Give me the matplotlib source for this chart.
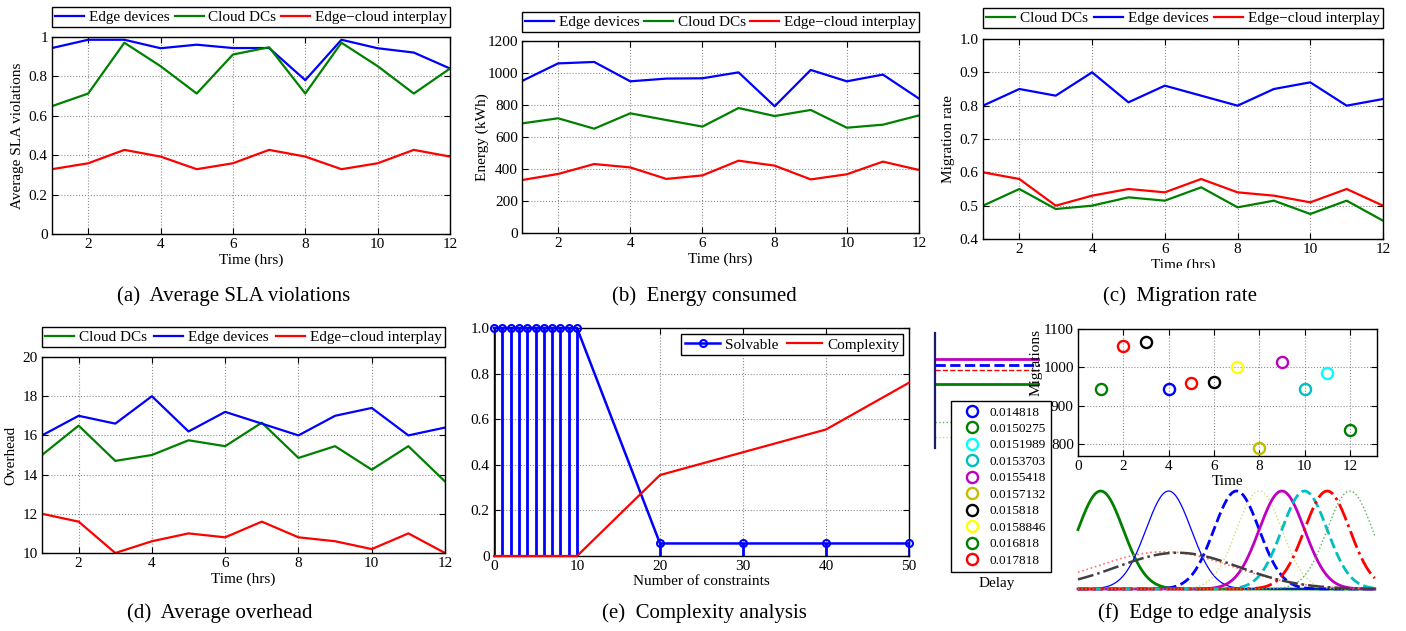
import numpy as np
import matplotlib
matplotlib.use("Agg")
import matplotlib.pyplot as plt
from matplotlib.lines import Line2D
from matplotlib.patches import Rectangle

plt.rcParams["font.family"] = ["Liberation Serif", "DejaVu Serif"]

W, H = 1406, 631

BLUE = (0, 0, 1)
GREEN = (0, 0.5, 0)
RED = (1, 0, 0)

# time axis shared by (a)-(d)
hours = [1, 2, 3, 4, 5, 6, 7, 8, 9, 10, 11, 12]

sla_edge = [0.944, 0.986, 0.986, 0.943, 0.961, 0.944, 0.944, 0.781, 0.986, 0.943, 0.921, 0.840]
sla_cloud = [0.649, 0.713, 0.971, 0.852, 0.713, 0.911, 0.948, 0.713, 0.971, 0.852, 0.713, 0.840]
sla_hybrid = [0.329, 0.359, 0.427, 0.393, 0.329, 0.359, 0.427, 0.393, 0.329, 0.359, 0.427, 0.393]

energy_edge = [950, 1060, 1069, 948, 965, 967, 1004, 792, 1019, 948, 990, 840]
energy_cloud = [685, 717, 652, 748, 706, 665, 781, 731, 769, 658, 677, 735]
energy_hybrid = [331, 369, 431, 410, 338, 360, 452, 421, 335, 367, 446, 394]

mig_cloud = [0.50, 0.55, 0.49, 0.50, 0.525, 0.515, 0.555, 0.495, 0.515, 0.475, 0.515, 0.455]
mig_edge = [0.80, 0.85, 0.83, 0.90, 0.81, 0.86, 0.83, 0.80, 0.85, 0.87, 0.80, 0.82]
mig_hybrid = [0.60, 0.58, 0.50, 0.53, 0.55, 0.54, 0.58, 0.54, 0.53, 0.51, 0.55, 0.50]

ovh_cloud = [15.0, 16.5, 14.7, 15.0, 15.75, 15.45, 16.65, 14.85, 15.45, 14.25, 15.45, 13.65]
ovh_edge = [16.0, 17.0, 16.6, 18.0, 16.2, 17.2, 16.6, 16.0, 17.0, 17.4, 16.0, 16.4]
ovh_hybrid = [12.0, 11.6, 10.0, 10.6, 11.0, 10.8, 11.6, 10.8, 10.6, 10.2, 11.0, 10.0]

# (e) complexity
constraints = [0, 1, 2, 3, 4, 5, 6, 7, 8, 9, 10, 20, 30, 40, 50]
solvable = [1, 1, 1, 1, 1, 1, 1, 1, 1, 1, 1, 0.055, 0.055, 0.055, 0.055]
complexity = [0, 0, 0, 0, 0, 0, 0, 0, 0, 0, 0, 0.355, 0.455, 0.555, 0.76]

# (f) edge to edge
mig_times = [1, 2, 3, 4, 5, 6, 7, 8, 9, 10, 11, 12]
migrations = [943, 1055, 1065, 943, 960, 962, 1000, 790, 1015, 943, 985, 838]
point_colors = [GREEN, RED, "k", BLUE, RED, "k", (1, 1, 0), (0.75, 0.75, 0),
                (0.75, 0, 0.75), (0, 0.75, 0.75), (0, 1, 1), GREEN]
delay_labels = ["0.014818", "0.0150275", "0.0151989", "0.0153703", "0.0155418",
                "0.0157132", "0.015818", "0.0158846", "0.016818", "0.017818"]
delay_colors = [BLUE, GREEN, (0, 1, 1), (0, 0.75, 0.75), (0.75, 0, 0.75),
                (0.75, 0.75, 0), "k", (1, 1, 0), GREEN, RED]

curve_centers = [1, 4, 7, 8, 9, 10, 11, 12, 3.8, 4.4]
curve_sigmas = [1, 1, 1, 1, 1, 1, 1, 1, 3.0, 2.7]
curve_peaks = [1, 1, 1, 1, 1, 1, 1, 1, 0.38, 0.37]
curve_colors = [GREEN, BLUE, BLUE, (0.85, 0.85, 0.45), (0.75, 0, 0.75), (0, 0.75, 0.75),
                RED, (0.35, 0.7, 0.35), (1, 0.45, 0.45), (0.25, 0.25, 0.25)]
curve_styles = ["-", "-", "--", ":", "-", "--", "-.", ":", ":", "-."]
curve_widths = [2.0, 0.9, 2.0, 1.0, 2.0, 2.0, 2.0, 1.0, 1.2, 1.8]

mini_levels = [0.774, 0.722, 0.678, 0.557, 0.226, 0.096]
mini_colors = [(0.75, 0, 0.75), BLUE, RED, GREEN, (0.35, 0.7, 0.35), (0.85, 0.85, 0.45)]
mini_styles = ["-", "--", "--", "-", ":", ":"]
mini_widths = [2.0, 2.0, 1.0, 2.0, 1.0, 1.0]


def box(l, t, r, b):
    return [l / W, 1 - b / H, (r - l) / W, (b - t) / H]


def style(ax):
    ax.grid(True, ls=":", color="0.55", lw=0.8)
    ax.tick_params(direction="in", length=4, top=True, right=True, labelsize=11, width=0.8, pad=3)
    for s in ax.spines.values():
        s.set_linewidth(1.0)


def place_labels(ax, rect, ylab_x, xlab_dy=20):
    # ylab_x: right edge of the rotated y label, xlab_dy: top of x label below axes
    l, t, r, b = rect
    ax.yaxis.set_label_coords((ylab_x - l) / (r - l), 0.5)
    ax.xaxis.set_label_coords(0.5, -xlab_dy / (b - t))


def top_legend(ax, rect, leg_bottom):
    l, t, r, b = rect
    ax.legend(loc="lower left", bbox_to_anchor=(0, 1 + (t - leg_bottom) / (b - t), 1, 0.1),
              mode="expand", ncol=3, fontsize=11, fancybox=False, edgecolor="k",
              framealpha=1, borderaxespad=0, handlelength=1.9, handletextpad=0.3,
              columnspacing=0.6, borderpad=0.2)


def time_panel(fig, rect, series, ylim, yticks, ylabel, ylab_x, leg_bottom, yfmt=None):
    ax = fig.add_axes(box(*rect))
    for vals, col, lab in series:
        ax.plot(hours, vals, color=col, lw=1.6, label=lab)
    ax.set_xlim(1, 12)
    ax.set_xticks([2, 4, 6, 8, 10, 12])
    ax.set_ylim(*ylim)
    ax.set_yticks(yticks)
    if yfmt:
        ax.set_yticklabels([yfmt(v) for v in yticks])
    ax.set_xlabel("Time (hrs)", fontsize=11)
    ax.set_ylabel(ylabel, fontsize=11)
    style(ax)
    place_labels(ax, rect, ylab_x)
    top_legend(ax, rect, leg_bottom)
    return ax


fig = plt.figure(figsize=(W / 100, H / 100), dpi=100)

EDGE = "Edge devices"
CLOUD = "Cloud DCs"
HYB = "Edge\u2212cloud interplay"

def frac(v):
    return "0" if v == 0 else ("1" if v == 1 else f"{v:.1f}")

time_panel(fig, (52, 37, 450, 234),
           [(sla_edge, BLUE, EDGE), (sla_cloud, GREEN, CLOUD), (sla_hybrid, RED, HYB)],
           (0, 1), [0, 0.2, 0.4, 0.6, 0.8, 1.0], "Average SLA violations", 24, 27, frac)

time_panel(fig, (522, 41, 919, 233),
           [(energy_edge, BLUE, EDGE), (energy_cloud, GREEN, CLOUD), (energy_hybrid, RED, HYB)],
           (0, 1200), [0, 200, 400, 600, 800, 1000, 1200], "Energy (kWh)", 489, 32)

time_panel(fig, (983, 39, 1383, 239),
           [(mig_cloud, GREEN, CLOUD), (mig_edge, BLUE, EDGE), (mig_hybrid, RED, HYB)],
           (0.4, 1.0), [0.4, 0.5, 0.6, 0.7, 0.8, 0.9, 1.0], "Migration rate", 955, 28,
           lambda v: f"{v:.1f}")

time_panel(fig, (42, 357, 445, 553),
           [(ovh_cloud, GREEN, CLOUD), (ovh_edge, BLUE, EDGE), (ovh_hybrid, RED, HYB)],
           (10, 20), [10, 12, 14, 16, 18, 20], "Overhead", 17, 347)

# (c) x label is cut off in the original
fig.patches.append(Rectangle((1050 / W, 1 - 287 / H), 300 / W, 19 / H, transform=fig.transFigure,
                             facecolor="white", edgecolor="none", zorder=10))

# (e) complexity analysis
rect_e = (494, 328, 909, 556)
ax = fig.add_axes(box(*rect_e))
ax.vlines(constraints, 0, solvable, color=BLUE, lw=2.0)
ax.plot(constraints, solvable, "-o", color=BLUE, lw=1.8, ms=5, mfc="none", mew=1.5,
        label="Solvable", clip_on=False, zorder=4)
ax.plot(constraints, complexity, color=RED, lw=1.6, label="Complexity", clip_on=False, zorder=5)
ax.set_xlim(0, 50)
ax.set_ylim(0, 1)
ax.set_xticks([0, 10, 20, 30, 40, 50])
ax.set_yticks([0, 0.2, 0.4, 0.6, 0.8, 1.0])
ax.set_yticklabels(["0", "0.2", "0.4", "0.6", "0.8", "1.0"])
ax.set_xlabel("Number of constraints", fontsize=11)
style(ax)
place_labels(ax, rect_e, 470, 19)
ax.legend(loc="upper right", ncol=2, fontsize=11, fancybox=False, edgecolor="k", framealpha=1,
          borderaxespad=0.4, handlelength=2.3, handletextpad=0.3, columnspacing=0.6, borderpad=0.25)

# (f) leftover squeezed axes
ax_m = fig.add_axes(box(935, 333, 1040, 448))
for lev, col, ls, lw in zip(mini_levels, mini_colors, mini_styles, mini_widths):
    ax_m.plot([0, 1], [lev, lev], color=col, ls=ls, lw=lw)
ax_m.set_xlim(0, 1)
ax_m.set_ylim(0, 1)
ax_m.set_xticks([])
ax_m.set_yticks([])
for side in ["top", "right", "bottom"]:
    ax_m.spines[side].set_visible(False)
ax_m.spines["left"].set_color((0.1, 0.1, 0.4))
ax_m.spines["left"].set_linewidth(1.6)
ax_m.patch.set_alpha(0)

# (f) scatter of migrations
rect_f = (1078, 329, 1377, 456)
ax = fig.add_axes(box(*rect_f))
for t, m, c in zip(mig_times, migrations, point_colors):
    ax.plot(t, m, "o", color=c, ms=8, mfc="none", mew=1.7)
ax.set_xlim(0, 13.2)
ax.set_ylim(770, 1100)
ax.set_xticks([0, 2, 4, 6, 8, 10, 12])
ax.set_yticks([800, 900, 1000, 1100])
ax.set_xlabel("Time", fontsize=11, labelpad=1)
style(ax)
ax.tick_params(labelsize=11)
fig.text(1036 / W, 1 - 362 / H, "Migrations", rotation=90, fontsize=11, ha="center", va="center")

handles = [Line2D([], [], ls="none", marker="o", color=c, ms=8, mfc="none", mew=1.7)
           for c in delay_colors]
fig.legend(handles, delay_labels, loc="upper left", bbox_to_anchor=(951 / W, 1 - 401 / H),
           fontsize=9.5, fancybox=False, edgecolor="k", framealpha=1, borderaxespad=0,
           handlelength=2.4, handletextpad=0.1, labelspacing=0.32, borderpad=0.4)
fig.text(997 / W, 1 - 583 / H, "Delay", fontsize=11, ha="center", va="center")

# (f) delay distributions
ax_d = fig.add_axes(box(1078, 491, 1377, 589))
xs = np.linspace(0, 13.1, 400)
for c, s, p, col, ls, lw in zip(curve_centers, curve_sigmas, curve_peaks,
                                curve_colors, curve_styles, curve_widths):
    ax_d.plot(xs, p * np.exp(-(xs - c) ** 2 / (2 * s ** 2)), color=col, ls=ls, lw=lw, clip_on=False)
ax_d.set_xlim(0, 13.2)
ax_d.set_ylim(0, 1)
ax_d.axis("off")

# captions
captions = [(234, 296, "(a)  Average SLA violations"), (704, 296, "(b)  Energy consumed"),
            (1180, 296, "(c)  Migration rate"), (220, 613, "(d)  Average overhead"),
            (704, 613, "(e)  Complexity analysis"), (1205, 613, "(f)  Edge to edge analysis")]
for x, y, txt in captions:
    fig.text(x / W, 1 - y / H, txt, fontsize=15, ha="center", va="center")

fig.savefig("out.png", dpi=100)
